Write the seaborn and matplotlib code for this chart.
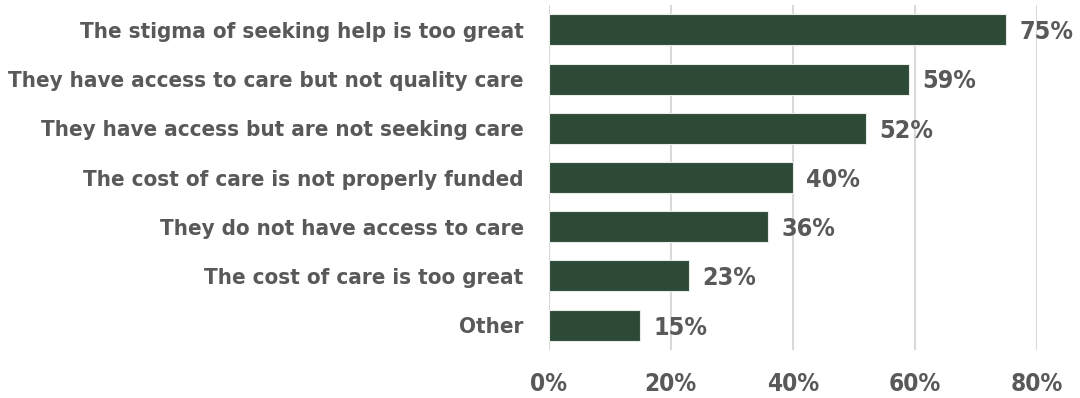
import matplotlib
matplotlib.use("Agg")
import matplotlib.pyplot as plt
import seaborn as sns
import pandas as pd

reasons = [
    "The stigma of seeking help is too great",
    "They have access to care but not quality care",
    "They have access but are not seeking care",
    "The cost of care is not properly funded",
    "They do not have access to care",
    "The cost of care is too great",
    "Other",
]
shares = [75, 59, 52, 40, 36, 23, 15]
ticks = [0, 20, 40, 60, 80]

df = pd.DataFrame({"reason": reasons, "share": shares})

sns.set_style("white")
plt.rcParams["font.family"] = ["DejaVu Sans"]
plt.rcParams["font.stretch"] = "condensed"

text_color = "#595959"
bar_color = "#2c4a36"

fig = plt.figure(figsize=(10.8, 3.98), dpi=100)
ax = fig.add_axes([0.508, 0.121, 0.452, 0.866])

sns.barplot(data=df, x="share", y="reason", color=bar_color, width=0.63,
            edgecolor="#e8ece9", linewidth=0.8, saturation=1, ax=ax)

ax.set_xlim(0, 80)
ax.set_xticks(ticks)
ax.set_xticklabels([f"{t}%" for t in ticks])
ax.grid(axis="x", color="#d9d9d9", linewidth=1.5)
ax.set_axisbelow(True)
sns.despine(ax=ax, left=True, bottom=True)
ax.set_xlabel("")
ax.set_ylabel("")
ax.tick_params(axis="both", length=0, labelcolor=text_color)
ax.tick_params(axis="x", pad=16, labelsize=17.5)
ax.tick_params(axis="y", pad=18, labelsize=16)
for lab in ax.get_xticklabels() + ax.get_yticklabels():
    lab.set_fontweight("bold")

for i, v in enumerate(shares):
    ax.text(v + 2.2, i + 0.05, f"{v}%", va="center", ha="left",
            fontsize=18, fontweight="bold", color=text_color, clip_on=False)

fig.savefig("out.png", dpi=100)
